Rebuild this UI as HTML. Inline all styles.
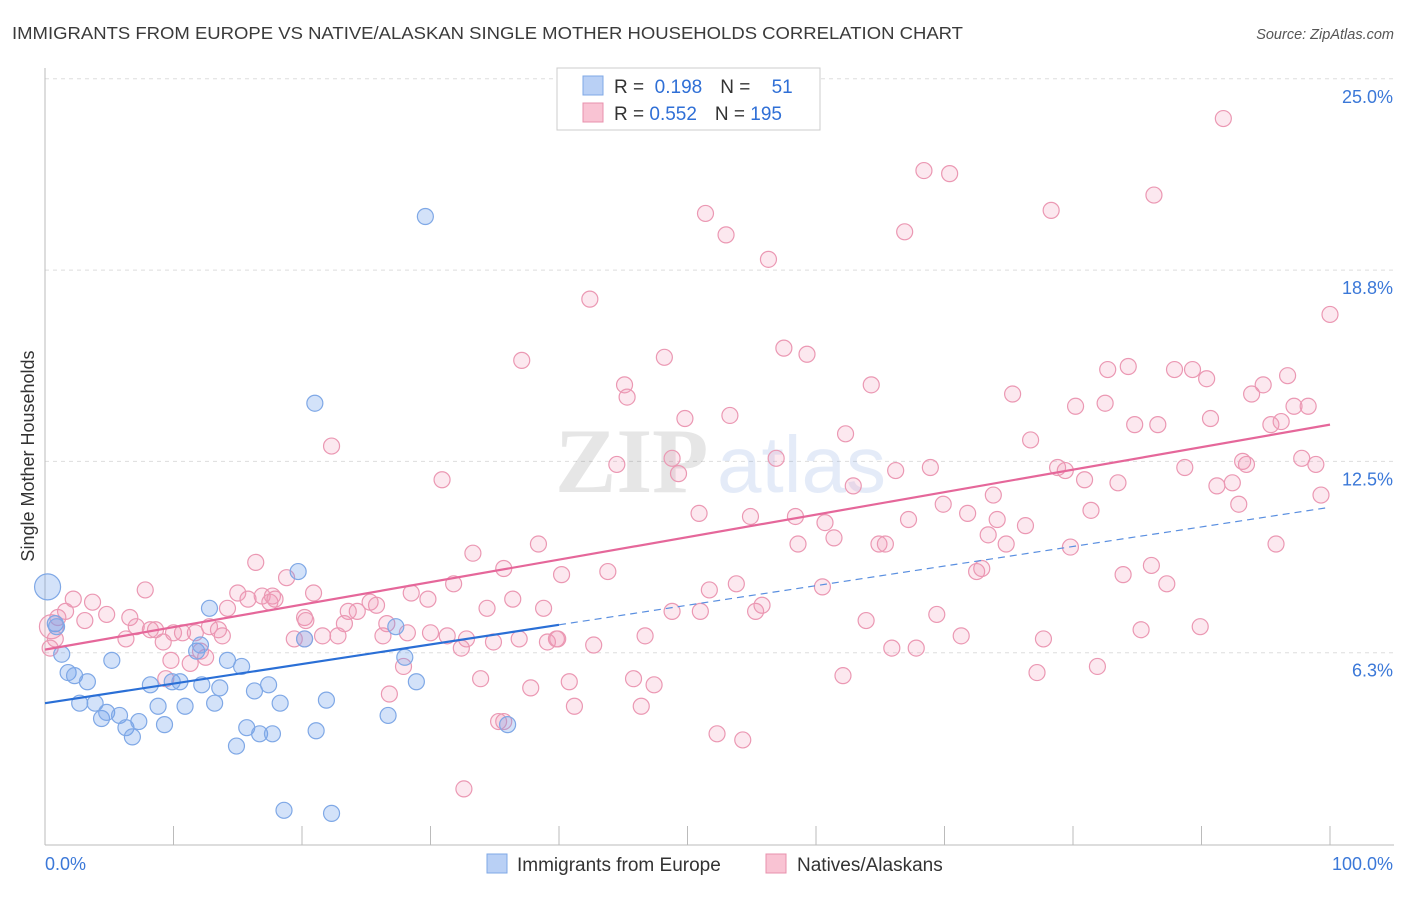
<!DOCTYPE html>
<html><head><meta charset="utf-8"><style>
body{margin:0;background:#fff;font-family:"Liberation Sans",sans-serif}
</style></head><body>
<svg id="chart" width="1406" height="892" viewBox="0 0 1406 892" xmlns="http://www.w3.org/2000/svg" font-family="Liberation Sans, sans-serif">
<text x="12" y="39" font-size="17.5" fill="#3a3a3a" textLength="951" lengthAdjust="spacingAndGlyphs">IMMIGRANTS FROM EUROPE VS NATIVE/ALASKAN SINGLE MOTHER HOUSEHOLDS CORRELATION CHART</text>
<text x="1394" y="39" font-size="14.5" fill="#555" text-anchor="end" font-style="italic">Source: ZipAtlas.com</text>
<g id="grid"></g>
<g opacity="0.13">
<text x="555" y="492" font-size="92" font-family="Liberation Serif, serif" fill="#444" font-weight="bold">ZIP</text>
<text x="717" y="492" font-size="80" fill="#3b6fd0">atlas</text>
</g>
<g id="axes"></g>
<g id="pinkPts"></g>
<g id="bluePts"></g>
<g id="trends"></g>
<g>
<rect x="557" y="68" width="263" height="62" fill="#fff" stroke="#ccc"/>
<rect x="583" y="76" width="20" height="19" fill="#b9d0f5" stroke="#7fa8e6"/>
<rect x="583" y="103" width="20" height="19" fill="#f9c3d3" stroke="#e890ad"/>
<text x="614" y="93" font-size="19" fill="#333">R = <tspan fill="#2f6fd6">&#160;0.198</tspan><tspan dx="18">N = </tspan><tspan fill="#2f6fd6" dx="16">51</tspan></text>
<text x="614" y="120" font-size="19" fill="#333">R = <tspan fill="#2f6fd6">0.552</tspan><tspan dx="18">N = </tspan><tspan fill="#2f6fd6">195</tspan></text>
</g>
<g>
<rect x="487" y="854" width="20" height="19" fill="#b9d0f5" stroke="#7fa8e6"/>
<text x="517" y="871" font-size="19" fill="#333">Immigrants from Europe</text>
<rect x="766" y="854" width="20" height="19" fill="#f9c3d3" stroke="#e890ad"/>
<text x="797" y="871" font-size="19" fill="#333">Natives/Alaskans</text>
</g>
<text transform="translate(34,456) rotate(-90)" font-size="18" fill="#333" text-anchor="middle">Single Mother Households</text>
</svg>
<script>
const yTicks=[6.25,12.5,18.75,25];
const yTickLabels=["6.3%","12.5%","18.8%","25.0%"];
const xTickVals=[0,10,20,30,40,50,60,70,80,90,100];
const blueX=[0.2,0.8,0.9,1.3,1.8,2.3,3.3,2.7,3.9,4.4,4.8,5.2,5.8,6.3,6.8,7.3,8.2,8.8,9.3,9.9,10.5,10.9,11.8,12.1,12.2,12.8,13.2,13.6,14.2,14.9,15.3,15.7,16.3,16.7,17.4,17.7,18.3,18.6,19.7,20.2,21.0,21.1,21.9,22.3,26.7,27.3,28.0,28.9,29.6,36.0];
const blueY=[8.4,7.2,7.1,6.2,5.6,5.5,5.3,4.6,4.6,4.1,4.3,6.0,4.2,3.8,3.5,4.0,5.2,4.5,3.9,5.3,5.3,4.5,6.3,6.5,5.2,7.7,4.6,5.1,6.0,3.2,5.8,3.8,5.0,3.6,5.2,3.6,4.6,1.1,8.9,6.7,14.4,3.7,4.7,1.0,4.2,7.1,6.1,5.3,20.5,3.9];
const pinkX=[91.7,68.4,70.4,86.3,51.4,78.3,66.9,53.0,56.3,42.4,100.0,57.5,59.3,37.1,48.2,84.3,82.7,87.9,89.3,90.4,96.7,64.3,45.1,45.3,94.8,93.9,75.3,80.2,82.5,97.2,98.3,49.8,53.3,90.7,84.8,86.6,95.4,96.2,62.3,76.7,22.3,56.9,48.8,44.5,93.2,78.8,79.4,97.8,98.9,93.5,66.2,68.9,88.7,30.9,49.3,62.9,80.9,83.5,91.2,92.4,73.8,99.3,69.9,92.9,81.4,50.9,54.9,58.4,67.2,71.8,74.1,76.3,60.7,73.4,61.4,74.8,58.6,79.8,64.9,65.4,95.8,38.4,33.3,35.7,16.4,86.1,43.8,40.2,72.5,72.9,18.8,7.8,51.7,53.8,60.5,83.9,87.3,28.5,29.8,15.0,16.9,17.7,20.9,2.2,3.7,15.8,17.5,17.9,25.3,25.8,31.8,36.4,38.8,48.8,51.0,55.3,55.8,69.4,34.4,24.3,23.6,20.2,20.3,14.2,1.6,3.1,4.8,6.6,7.1,8.2,8.6,10.0,10.7,11.7,12.8,13.8,13.5,23.3,26.6,26.3,28.2,30.0,31.3,32.8,34.9,36.9,39.1,39.8,42.7,46.7,63.9,71.3,77.7,85.3,89.9,9.2,6.3,12.1,19.4,20.2,21.6,22.8,32.4,39.9,9.8,11.3,12.5,27.9,65.9,67.8,77.2,81.9,9.4,33.9,40.8,45.8,47.4,62.1,26.8,37.8,41.2,46.4,35.3,35.7,52.3,54.3,32.6,0.5,0.8,0.4,1.0];
const pinkY=[23.7,22.0,21.9,21.2,20.6,20.7,20.0,19.9,19.1,17.8,17.3,16.2,16.0,15.8,15.9,15.6,15.5,15.5,15.5,15.2,15.3,15.0,15.0,14.6,15.0,14.7,14.7,14.3,14.4,14.3,14.3,13.9,14.0,13.9,13.7,13.7,13.7,13.8,13.4,13.2,13.0,12.6,12.6,12.4,12.5,12.3,12.2,12.6,12.4,12.4,12.2,12.3,12.3,11.9,12.1,11.7,11.9,11.8,11.7,11.8,11.4,11.4,11.1,11.1,10.9,10.8,10.7,10.7,10.6,10.8,10.6,10.4,10.5,10.1,10.0,9.8,9.8,9.7,9.8,9.8,9.8,9.8,9.5,9.0,9.2,9.1,8.9,8.8,8.9,9.0,8.7,8.3,8.3,8.5,8.4,8.8,8.5,8.2,8.0,8.2,8.1,8.1,8.2,8.0,7.9,8.0,7.9,8.0,7.9,7.8,8.5,8.0,7.7,7.6,7.6,7.6,7.8,7.5,7.7,7.6,7.6,7.4,7.3,7.7,7.6,7.3,7.5,7.4,7.1,7.0,7.0,6.9,6.9,6.9,7.1,6.8,7.0,7.2,7.2,6.8,6.9,6.9,6.8,6.7,6.6,6.7,6.6,6.7,6.5,6.8,7.3,6.8,6.7,7.0,7.1,6.6,6.7,6.3,6.7,6.7,6.8,6.8,6.4,6.7,6.0,5.9,6.1,5.8,6.4,6.4,5.6,5.8,5.4,5.4,5.3,5.4,5.2,5.5,4.9,5.1,4.5,4.5,4.0,4.0,3.6,3.4,1.8,7.1,6.7,6.4,7.4];
const blueTrend=[4.6,11.0];
const pinkTrend=[6.35,13.7];
const NS="http://www.w3.org/2000/svg";
const X=v=>45+v*12.85, Y=v=>844-v*30.61;
function mk(t,a,p){const e=document.createElementNS(NS,t);for(const k in a)e.setAttribute(k,a[k]);p.appendChild(e);return e;}
const grid=document.getElementById('grid'),axes=document.getElementById('axes');
yTicks.forEach((v,i)=>{
 const l=mk('line',{x1:45,x2:1394,y1:Y(v),y2:Y(v),stroke:'#ddd','stroke-dasharray':'4,4'},grid);
 
 
 const t=mk('text',{x:1393,y:Y(v)+24,'font-size':18,fill:'#3b78d8','text-anchor':'end'},grid);
 t.textContent=yTickLabels[i];
 
 
});
mk('line',{x1:45,x2:45,y1:68,y2:845,stroke:'#bbb'},axes);
mk('line',{x1:45,x2:1394,y1:845,y2:845,stroke:'#bbb'},axes);
xTickVals.forEach(v=>{const l=mk('line',{x1:X(v),x2:X(v),y1:826,y2:845,stroke:'#bbb'},axes);
 
 });
const x0=mk('text',{x:45,y:870,'font-size':18,fill:'#3b78d8'},axes);x0.textContent='0.0%';


const x1=mk('text',{x:1393,y:870,'font-size':18,fill:'#3b78d8','text-anchor':'end'},axes);x1.textContent='100.0%';


const pg=document.getElementById('pinkPts');
pinkX.forEach((v,i)=>{const r=(i===pinkX.length-4)?12:8;
 const c=mk('circle',{cx:X(v),cy:Y(pinkY[i]),r:r,fill:'rgba(242,150,180,0.22)',stroke:'#eb98b3','stroke-width':1.2},pg);
 
 });
const bg=document.getElementById('bluePts');
blueX.forEach((v,i)=>{const r=i===0?13:8;
 const c=mk('circle',{cx:X(v),cy:Y(blueY[i]),r:r,fill:'rgba(110,160,235,0.3)',stroke:'#7fa8e6','stroke-width':1.2},bg);
 
 });
const tg=document.getElementById('trends');
const bl=v=>blueTrend[0]+(blueTrend[1]-blueTrend[0])*v/100;
let e=mk('line',{x1:X(0),y1:Y(bl(0)),x2:X(40),y2:Y(bl(40)),stroke:'#2a6fd6','stroke-width':2.2},tg);


e=mk('line',{x1:X(40),y1:Y(bl(40)),x2:X(100),y2:Y(bl(100)),stroke:'#5a8fe0','stroke-width':1.2,'stroke-dasharray':'7,5'},tg);


e=mk('line',{x1:X(0),y1:Y(pinkTrend[0]),x2:X(100),y2:Y(pinkTrend[1]),stroke:'#e5679a','stroke-width':2.2},tg);


</script>
</body></html>
